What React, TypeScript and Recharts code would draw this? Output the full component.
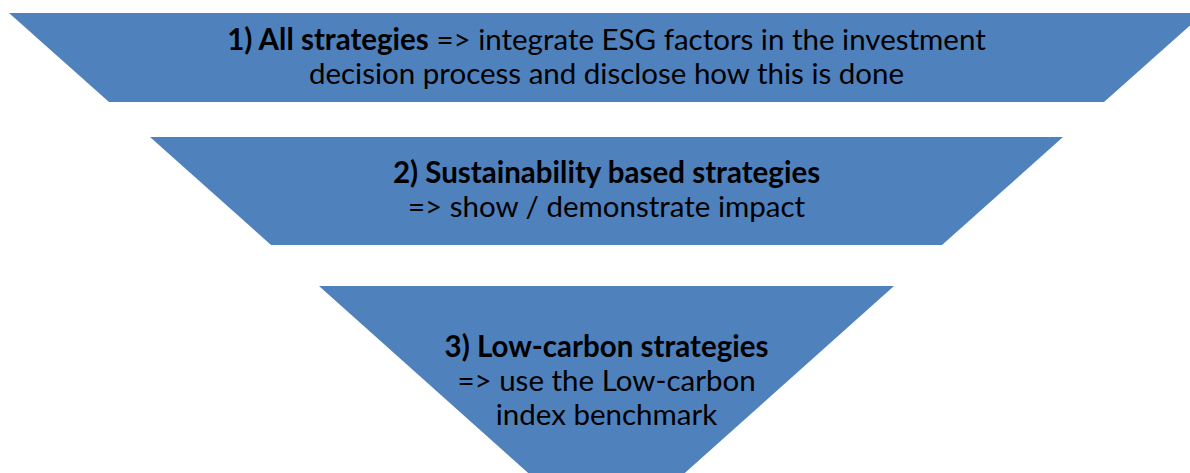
import { ComposedChart, Area, XAxis, YAxis, ReferenceDot } from "recharts"

// funnel stages, measured along the funnel depth (top = 0) and across its width
const stageTitles = [
  "1) All strategies",
  "2) Sustainability based strategies",
  "3) Low-carbon strategies",
]
const stageDetails = [
  ["=> integrate ESG factors in the investment", "decision process and disclose how this is done"],
  ["=> show / demonstrate impact"],
  ["=> use the Low-carbon", "index benchmark"],
]
const titleInline = [true, false, false]

const stageTop = [13, 137, 286]
const stageBottom = [102, 245, 543]
const stageTopSpan: [number, number][] = [[9, 1204], [150, 1063], [319, 894]]
const stageBottomSpan: [number, number][] = [[109, 1104], [271, 942], [606.5, 606.5]]
const textDepth = [57, 190, 381]
const funnelCenter = 606.5

const FILL = "#4F81BD"
const FONT = "Lato, 'Open Sans', sans-serif"
const FONT_SIZE = 29.5
const LINE_HEIGHT = 34

const keys = stageTitles.map((_, i) => `stage${i}`)

const rows = stageTop.flatMap((top, i) => [
  { depth: top, [keys[i]]: stageTopSpan[i] },
  { depth: stageBottom[i], [keys[i]]: stageBottomSpan[i] },
])

function stageLines(i: number) {
  if (titleInline[i]) {
    const [first, ...rest] = stageDetails[i]
    return [{ bold: stageTitles[i], text: " " + first }, ...rest.map((t) => ({ bold: "", text: t }))]
  }
  return [{ bold: stageTitles[i], text: "" }, ...stageDetails[i].map((t) => ({ bold: "", text: t }))]
}

function StageText({ cx, cy, index }: any) {
  const lines = stageLines(index)
  const start = cy - ((lines.length - 1) / 2) * LINE_HEIGHT + FONT_SIZE * 0.33
  return (
    <text textAnchor="middle" fontFamily={FONT} fontSize={FONT_SIZE} fill="#000">
      {lines.map((line, j) => (
        <tspan key={j} x={cx} y={start + j * LINE_HEIGHT}>
          {line.bold && <tspan fontWeight="bold">{line.bold}</tspan>}
          {line.text && <tspan>{line.text}</tspan>}
        </tspan>
      ))}
    </text>
  )
}

export default function App() {
  return (
    <div style={{ position: "absolute", left: 0, top: 0, width: 1190, height: 473, background: "#fff" }}>
      <ComposedChart
        width={1190}
        height={473}
        data={rows}
        layout="vertical"
        margin={{ top: 0, right: 0, bottom: 0, left: 0 }}
      >
        <XAxis type="number" domain={[0, 1190]} hide allowDataOverflow />
        <YAxis type="number" dataKey="depth" domain={[0, 473]} hide allowDataOverflow />
        {keys.map((k) => (
          <Area
            key={k}
            dataKey={k}
            type="linear"
            fill={FILL}
            fillOpacity={1}
            stroke="none"
            isAnimationActive={false}
            dot={false}
            activeDot={false}
          />
        ))}
        {textDepth.map((d, i) => (
          <ReferenceDot
            key={i}
            x={funnelCenter}
            y={d}
            r={0}
            shape={(p: any) => <StageText {...p} index={i} />}
          />
        ))}
      </ComposedChart>
    </div>
  )
}
